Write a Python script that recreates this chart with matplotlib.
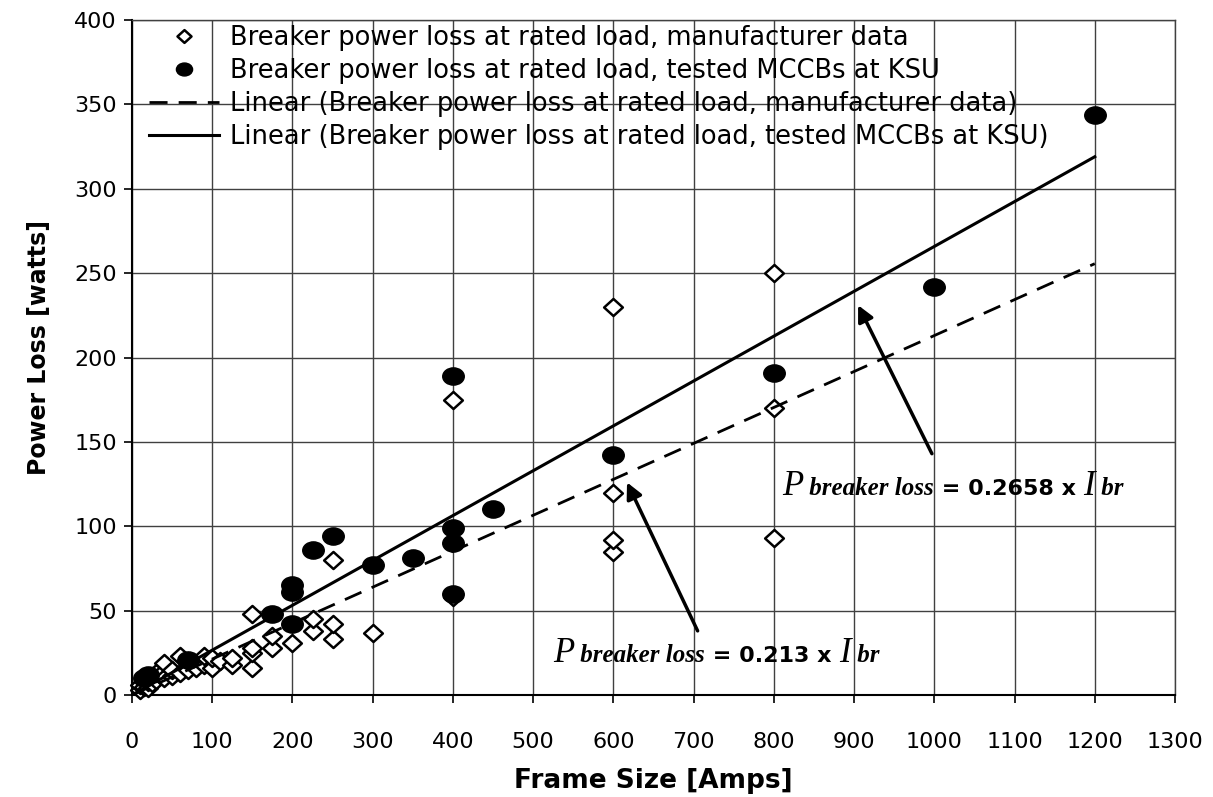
import numpy as np
import matplotlib
matplotlib.use("Agg")
import matplotlib.pyplot as plt
from matplotlib.path import Path
from matplotlib.transforms import Affine2D
from matplotlib.offsetbox import TextArea, HPacker, AnnotationBbox

# breaker power loss at rated load vs frame size

# manufacturer data (frame size [A], loss [W])
mfr_amps = [10, 10, 15, 15, 20, 20, 25, 25, 30, 30, 35, 40, 40, 50, 50, 60, 60, 70, 70,
            80, 90, 90, 100, 100, 110, 125, 125, 150, 150, 150, 150, 175, 175, 200, 225,
            225, 250, 250, 250, 300, 400, 400, 600, 600, 600, 600, 800, 800, 800]
mfr_watts = [3, 6, 5, 9, 4, 8, 7, 11, 9, 13, 12, 10, 19, 11, 15, 13, 23, 15, 20,
             16, 18, 23, 16, 22, 20, 18, 22, 16, 25, 28, 48, 28, 35, 31, 38,
             45, 33, 42, 80, 37, 58, 175, 85, 92, 120, 230, 93, 170, 250]

# tested MCCBs at KSU
ksu_amps = [15, 20, 70, 175, 200, 200, 200, 225, 250, 300, 350, 400, 400, 400, 400,
            450, 600, 800, 1000, 1200]
ksu_watts = [10, 12, 21, 48, 65, 61, 42, 86, 94, 77, 81, 189, 99, 90, 60,
             110, 142, 191, 242, 344]

# linear trendlines through the origin (slopes as printed on the chart)
mfr_slope = 0.213
ksu_slope = 0.2658
trend_amps = [0, 1200]

labels = ["Breaker power loss at rated load, manufacturer data",
          "Breaker power loss at rated load, tested MCCBs at KSU",
          "Linear (Breaker power loss at rated load, manufacturer data)",
          "Linear (Breaker power loss at rated load, tested MCCBs at KSU)"]

plt.rcParams['font.family'] = ['DejaVu Sans']

fig = plt.figure(figsize=(12.13, 7.97), dpi=100)
ax = fig.add_axes([132 / 1213, 1 - 695 / 797, (1175 - 132) / 1213, (695 - 20) / 797])

# slightly wide markers, like the original
ellipse = Path.unit_circle().transformed(Affine2D().scale(1.25, 1.0))
diamond = Path([(0, 1), (1.1, 0), (0, -1), (-1.1, 0), (0, 1)],
               [Path.MOVETO, Path.LINETO, Path.LINETO, Path.LINETO, Path.CLOSEPOLY])

h1, = ax.plot(mfr_amps, mfr_watts, ls='none', marker=diamond, ms=13.5, mfc='white',
              mec='black', mew=1.8, zorder=3, clip_on=False)
h2, = ax.plot(ksu_amps, ksu_watts, ls='none', marker=ellipse, ms=15.5, mfc='black',
              mec='black', zorder=4, clip_on=False)
t = np.array(trend_amps)
h3, = ax.plot(t, mfr_slope * t, color='black', lw=2.0, dashes=(6.5, 4), zorder=5)
h4, = ax.plot(t, ksu_slope * t, color='black', lw=2.2, zorder=5)

ax.set_xlim(0, 1300)
ax.set_ylim(0, 400)
ax.set_xticks(np.arange(0, 1301, 100))
ax.set_yticks(np.arange(0, 401, 50))
ax.grid(True, color='#404040', lw=1.0)
ax.set_axisbelow(True)
for s in ['top', 'right']:
    ax.spines[s].set_color('#404040')
    ax.spines[s].set_linewidth(1.0)
for s in ['left', 'bottom']:
    ax.spines[s].set_linewidth(1.5)
ax.tick_params(axis='both', direction='out', length=6, width=1.2, labelsize=16)
ax.tick_params(axis='x', pad=21)
ax.tick_params(axis='y', pad=5)

ax.set_xlabel('Frame Size [Amps]', fontsize=19, fontweight='bold')
ax.set_ylabel('Power Loss [watts]', fontsize=17, fontweight='bold')
ax.xaxis.set_label_coords(0.5, -0.108)
ax.yaxis.set_label_coords(-0.078, 0.515)

leg = ax.legend([h1, h2, h3, h4], labels, loc='upper left', bbox_to_anchor=(0.011, 1.0),
                frameon=False, fontsize=18.5, markerscale=0.75, handlelength=2.75,
                handletextpad=0.4, labelspacing=0.27, borderaxespad=0.2,
                borderpad=0.0)
leg.set_zorder(6)


def equation(slope_text):
    serif = 'Liberation Serif'
    parts = [
        ("P", dict(family=serif, style='italic', size=25)),
        (" breaker loss", dict(family=serif, style='italic', weight='bold', size=18)),
        (" = " + slope_text + " x ", dict(family='DejaVu Sans', weight='bold', size=16)),
        ("I", dict(family=serif, style='italic', size=25)),
        (" br", dict(family=serif, style='italic', weight='bold', size=18)),
    ]
    boxes = [TextArea(s, textprops=dict(color='black', **p)) for s, p in parts]
    return HPacker(children=boxes, align='baseline', pad=0, sep=0)


for slope_text, pos in [("0.213", (525, 15)), ("0.2658", (810, 114))]:
    ab = AnnotationBbox(equation(slope_text), pos, xycoords='data', box_alignment=(0, 0),
                        frameon=False, pad=0, zorder=7)
    ax.add_artist(ab)

arrow = dict(arrowstyle='-|>', lw=2.5, color='black', mutation_scale=24, shrinkA=0, shrinkB=0)
ax.annotate('', xy=(617, 126), xytext=(705, 38), arrowprops=arrow, zorder=7)
ax.annotate('', xy=(905, 231), xytext=(997, 143), arrowprops=arrow, zorder=7)

fig.savefig('out.png', dpi=100)
